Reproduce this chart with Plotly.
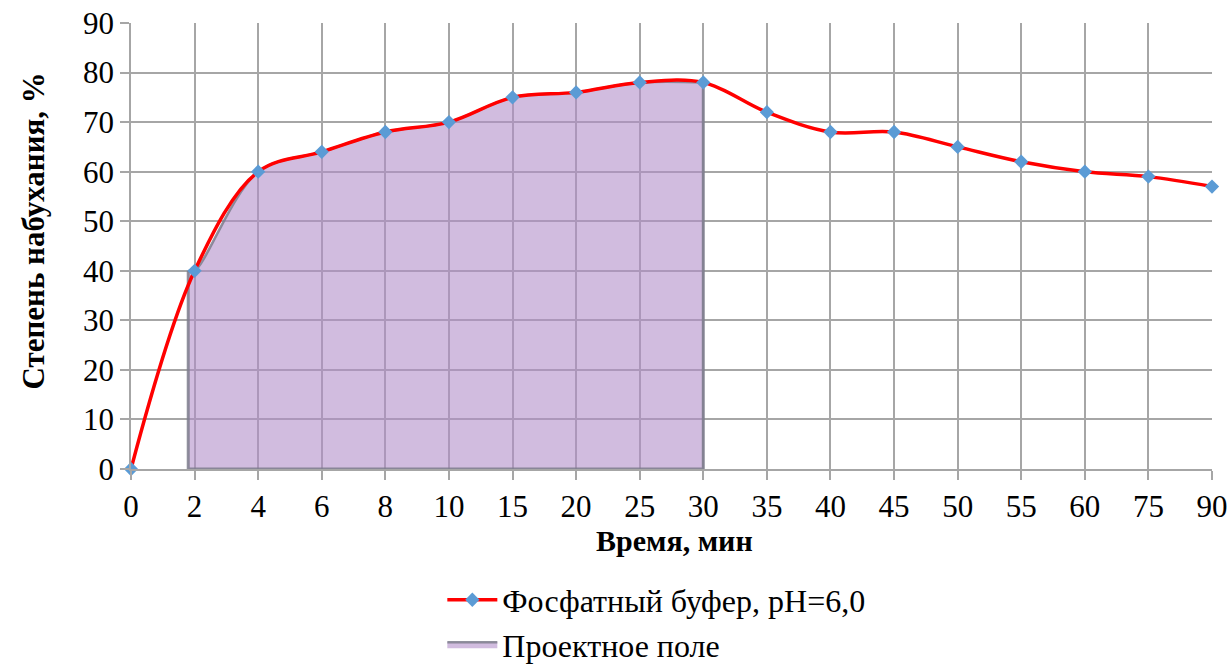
import plotly.graph_objects as go

# Swelling degree vs time (phosphate buffer, pH 6.0)
time_labels = ["0", "2", "4", "6", "8", "10", "15", "20", "25", "30",
               "35", "40", "45", "50", "55", "60", "75", "90"]
swelling = [0, 40, 60, 64, 68, 70, 75, 76, 78, 78,
            72, 68, 68, 65, 62, 60, 59, 57]

x_title = "Время, мин"
y_title = "Степень набухания, %"

# Project field: shaded region between the 2 and 30 minute points
field_start = 0.9   # category position where the shaded band begins
field_end_label = "30"
field_start_value = 40

pos = list(range(len(time_labels)))
end_idx = time_labels.index(field_end_label)
field_x = [field_start] + pos[1:end_idx + 1]
field_y = [field_start_value] + swelling[1:end_idx + 1]

font_family = "Liberation Serif"
grid_col = "#a6a6a6"
edge_col = "rgba(125,125,140,0.85)"

fig = go.Figure()

fig.add_trace(go.Scatter(
    x=field_x, y=field_y, mode="lines",
    line=dict(color=edge_col, width=2.5, shape="spline"),
    fill="tozeroy", fillcolor="rgba(176,140,200,0.58)",
    name="Проектное поле", legendgroup="b", legendrank=2,
))
# outline of the shaded band's left, bottom and right edges
fig.add_trace(go.Scatter(
    x=[field_x[0], field_x[0], field_x[-1], field_x[-1]],
    y=[field_y[0], 0, 0, field_y[-1]],
    mode="lines", line=dict(color=edge_col, width=3),
    showlegend=False, hoverinfo="skip",
))

fig.add_trace(go.Scatter(
    x=pos, y=swelling, mode="lines+markers",
    line=dict(color="#ff0000", width=3.5, shape="spline"),
    marker=dict(symbol="diamond", size=11, color="#5b9bd5"),
    cliponaxis=False,
    name="Фосфатный буфер, pH=6,0", legendgroup="a", legendrank=1,
))

fig.update_layout(
    width=1231, height=665,
    margin=dict(l=131, r=19, t=23, b=196, autoexpand=False),
    paper_bgcolor="white", plot_bgcolor="white",
    font=dict(family=font_family, size=32, color="black"),
    showlegend=True,
    legend=dict(x=0.288, y=-0.232, xanchor="left", yanchor="top",
                orientation="v", tracegroupgap=0,
                font=dict(size=32, family=font_family),
                bgcolor="rgba(0,0,0,0)", itemwidth=50),
    annotations=[
        dict(text=f"<b>{x_title}</b>", xref="paper", yref="paper",
             x=0.503, y=-0.16, xanchor="center", yanchor="middle",
             showarrow=False, font=dict(size=30, family=font_family)),
        dict(text=f"<b>{y_title}</b>", xref="paper", yref="paper",
             x=-0.09, y=0.534, xanchor="center", yanchor="middle",
             textangle=-90, showarrow=False,
             font=dict(size=31, family=font_family)),
    ],
)

fig.update_xaxes(
    range=[0, len(time_labels) - 1],
    tickmode="array", tickvals=pos, ticktext=time_labels,
    showgrid=True, gridcolor=grid_col, gridwidth=1.5,
    ticks="outside", ticklen=9, tickcolor=grid_col, tickwidth=1.5,
    showline=True, linecolor=grid_col, linewidth=1.5,
    zeroline=False, automargin=False,
    tickfont=dict(size=31, family=font_family),
)
fig.update_yaxes(
    range=[0, 90], tickvals=list(range(0, 91, 10)),
    showgrid=True, gridcolor=grid_col, gridwidth=1.5,
    ticks="outside", ticklen=9, tickcolor=grid_col, tickwidth=1.5,
    showline=True, linecolor=grid_col, linewidth=1.5,
    zeroline=False, automargin=False,
    tickfont=dict(size=31, family=font_family),
)

fig.write_html("out.html")
